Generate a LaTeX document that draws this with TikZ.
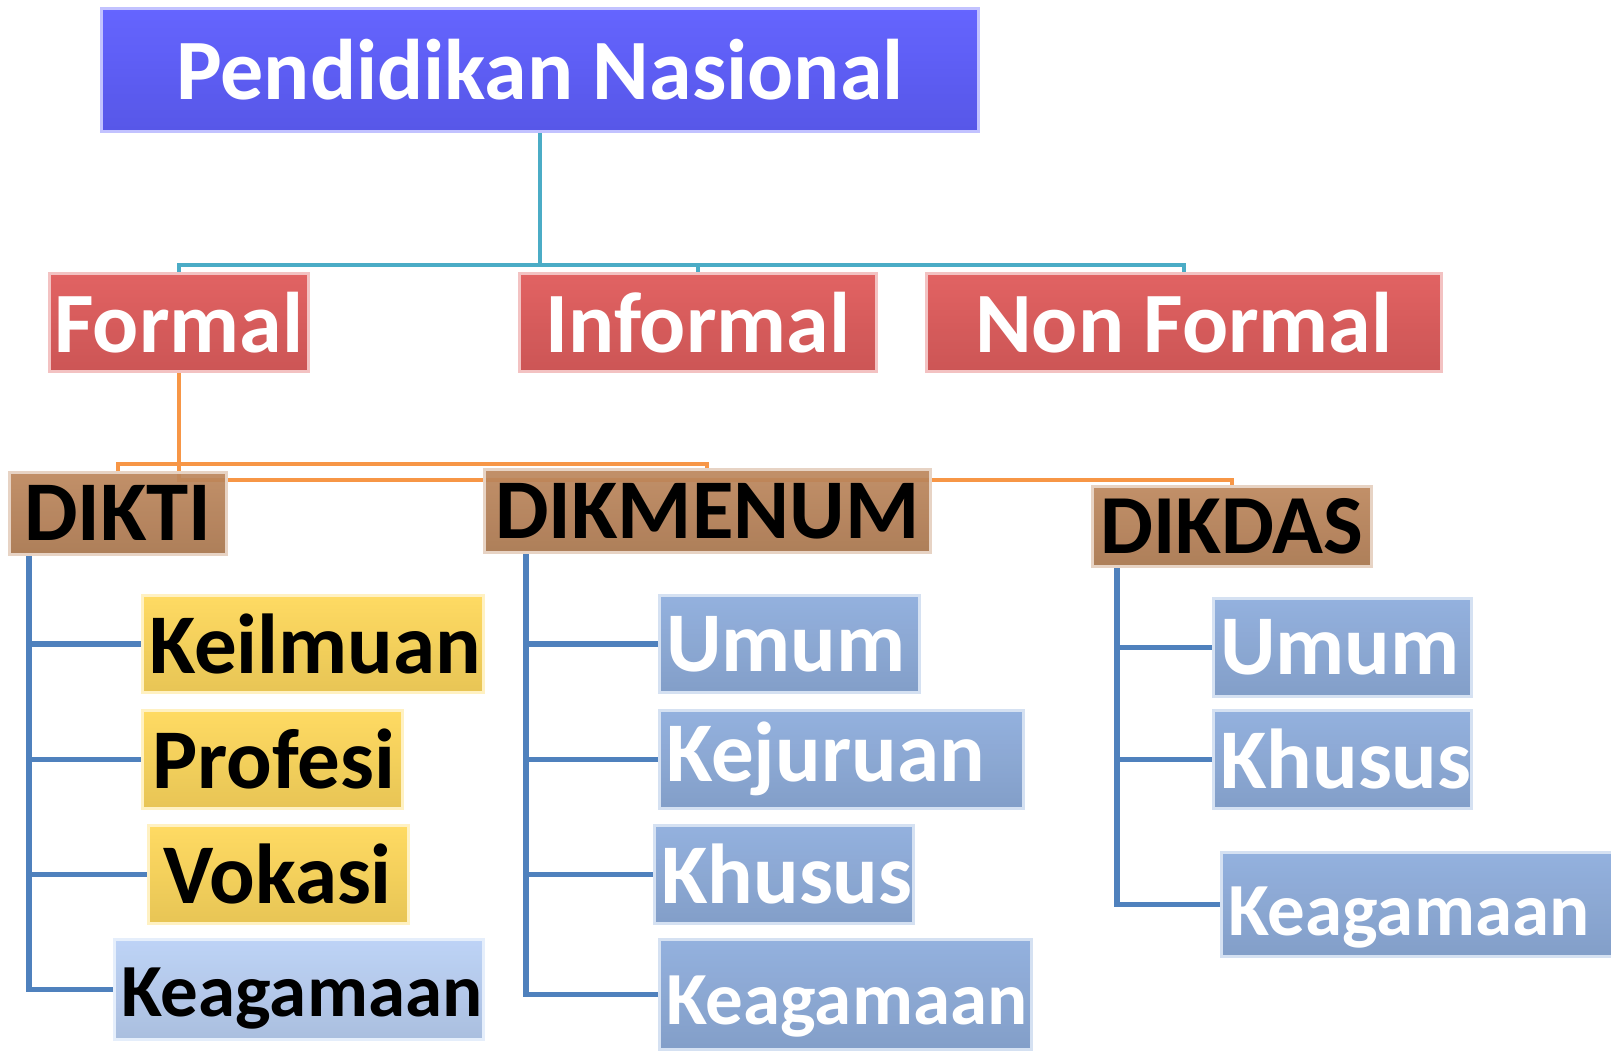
\documentclass[tikz,border=0pt]{standalone}
\usepackage{fontspec}
\setmainfont{Carlito}
\usetikzlibrary{backgrounds}
\hyphenpenalty=10000
\hbadness=10000
\hfuzz=60pt
\definecolor{nasblue}{RGB}{82,82,255}
\definecolor{jalred}{RGB}{222,80,80}
\definecolor{jenbrown}{RGB}{186,130,86}
\definecolor{progyel}{RGB}{255,214,80}
\definecolor{progblue}{RGB}{135,168,218}
\definecolor{progpale}{RGB}{182,206,245}
\definecolor{cyanln}{RGB}{75,172,198}
\definecolor{orangeln}{RGB}{247,150,70}
\definecolor{blueln}{RGB}{79,129,189}
\tikzset{
  box/.style={anchor=north west, inner sep=0pt, line width=2.5pt,
    draw=#1!35!white, top color=#1!96!white, bottom color=#1!90!black,
    fill opacity=0.93, text opacity=1},
  fs/.style={font=\bfseries\fontsize{#1}{#1}\selectfont},
  wh/.style 2 args={minimum width=#1pt, minimum height=#2pt},
  lw/.code 2 args={\pgfmathsetmacro\boxtw{#1-14}%
    \tikzset{minimum height=#2pt, inner xsep=7pt, align=left, text width=\boxtw pt}},
  low/.style={text height=#1pt, text depth=19pt},
  link/.style={#1, line width=4pt},
}
\begin{document}
\begin{tikzpicture}[x=1pt,y=-1pt]
  \useasboundingbox (0,0) rectangle (1611,1050);
  % pusat
  \node[box=nasblue, text=white, fs=86, wh={877}{123}] (nasional) at (100,7) {Pendidikan Nasional};
  % jalur
  \node[box=jalred, text=white, fs=86, wh={259}{98}] (formal) at (48,272) {Formal};
  \node[box=jalred, text=white, fs=86, wh={357}{98}] (informal) at (518,272) {Informal};
  \node[box=jalred, text=white, fs=86, wh={515}{98}] (nonformal) at (925,272) {Non Formal};
  % jenjang
  \node[box=jenbrown, fs=85, wh={217}{82}] (dikti) at (8,471) {DIKTI};
  \node[box=jenbrown, fs=85, wh={446}{83}] (dikmenum) at (483,468) {DIKMENUM};
  \node[box=jenbrown, fs=84, wh={279}{80}] (dikdas) at (1091,485) {DIKDAS};
  % dikti
  \node[box=progyel, fs=85, lw={341}{97}] (keilmuan) at (141,594) {Keilmuan};
  \node[box=progyel, fs=85, lw={260}{98}] (profesi) at (141,709) {\hspace*{3pt}Profesi};
  \node[box=progyel, fs=85, lw={260}{98}] (vokasi) at (147,824) {\hspace*{8pt}Vokasi};
  \node[box=progpale, fs=75, lw={369}{100}, low=74] (tkeagamaan) at (113,938) {Keagamaan};
  % dikmenum
  \node[box=progblue, text=white, fs=85, lw={260}{97}] (mumum) at (658,594) {Umum};
  \node[box=progblue, text=white, fs=85, lw={364}{98}] (mkejuruan) at (658,709) {Kejuruan};
  \node[box=progblue, text=white, fs=85, lw={259}{98}] (mkhusus) at (653,824) {Khusus};
  \node[box=progblue, text=white, fs=75, lw={372}{110}, low=80] (mkeagamaan) at (658,938) {Keagamaan};
  % dikdas
  \node[box=progblue, text=white, fs=85, lw={258}{98}] (dumum) at (1212,597) {Umum};
  \node[box=progblue, text=white, fs=85, lw={258}{98}] (dkhusus) at (1212,709) {Khusus};
  \node[box=progblue, text=white, fs=75, lw={400}{104}, low=82] (dkeagamaan) at (1220,851) {Keagamaan};

  \begin{pgfonlayer}{background}
    % nasional -> jalur
    \path (nasional.south) ++(0,132) coordinate (cy);
    \draw[link=cyanln] (nasional.south) -- (cy);
    \draw[link=cyanln] (formal.north) |- (cy) -| (nonformal.north);
    \draw[link=cyanln] (informal.north) -- (informal.north |- cy);
    % formal -> jenjang
    \path (formal.south) ++(0,91) coordinate (oa);
    \draw[link=orangeln] (formal.south) -- (oa) -- ++(0,16) -| (dikdas.north);
    \draw[link=orangeln] (dikti.north) |- (oa) -| (dikmenum.north);
    % jenjang -> program
    \foreach \p/\dx/\last/\kids in {dikti/21/tkeagamaan/{keilmuan,profesi,vokasi},
        dikmenum/43/mkeagamaan/{mumum,mkejuruan,mkhusus},
        dikdas/26/dkeagamaan/{dumum,dkhusus}}
    {
      \draw[link=blueln, line width=5.5pt] (\p.south west) ++(\dx,0) coordinate (v) |- (\last.west);
      \foreach \k in \kids
        \draw[link=blueln, line width=5.5pt] (v |- \k.west) -- (\k.west);
    }
  \end{pgfonlayer}
\end{tikzpicture}
\end{document}
